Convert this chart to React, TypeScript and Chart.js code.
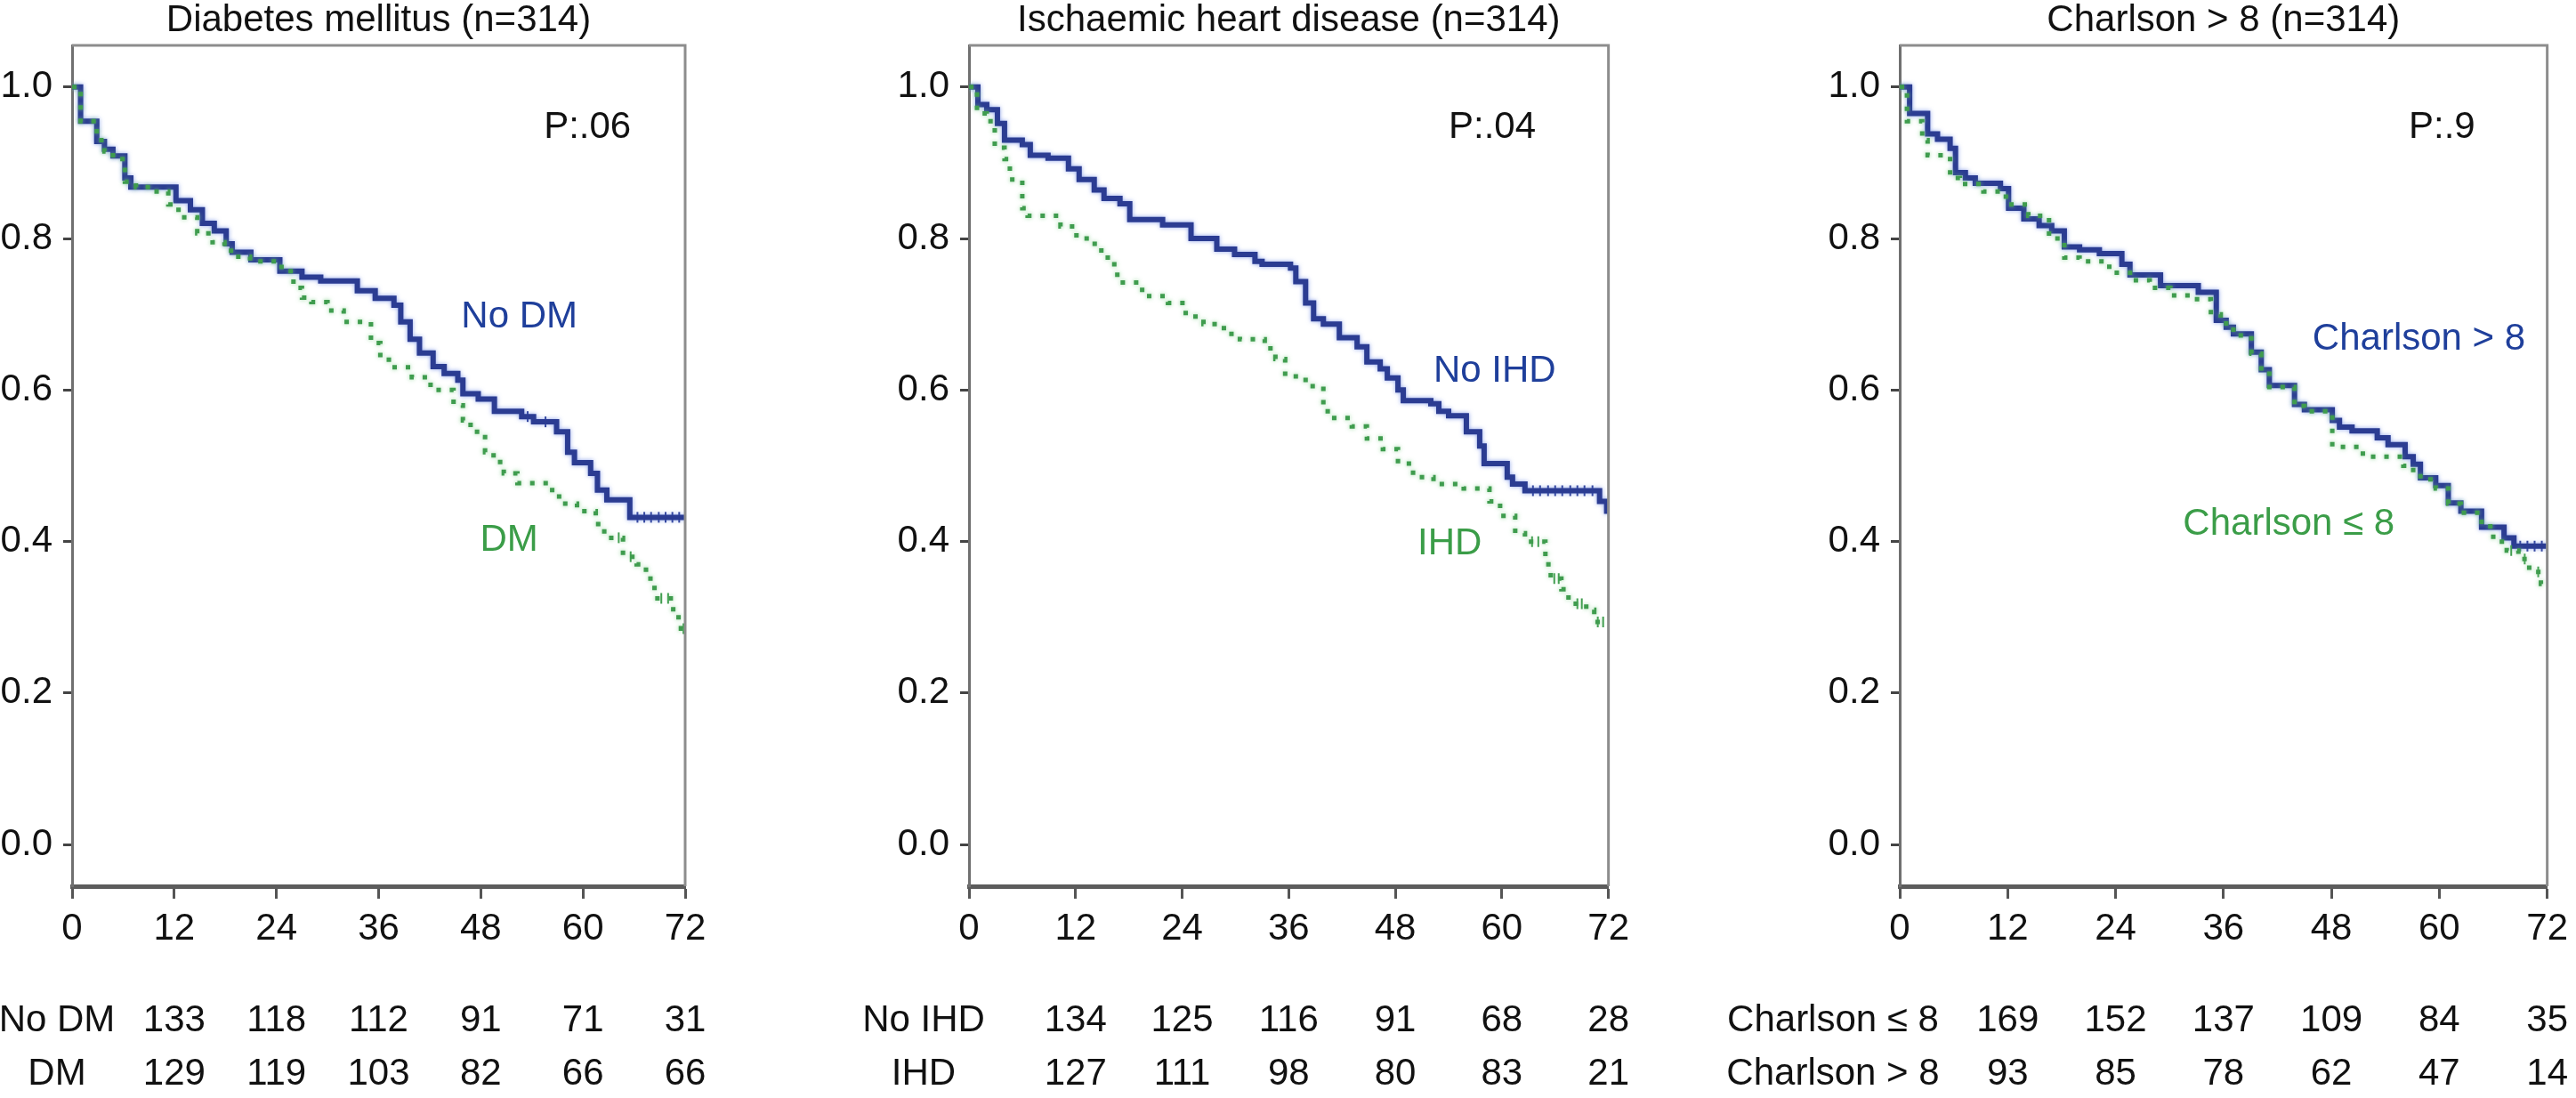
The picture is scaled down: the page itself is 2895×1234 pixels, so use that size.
import { useEffect, useRef } from 'react'
import { Chart, registerables } from 'chart.js'

Chart.register(...registerables)

const FONT = '"Liberation Sans", Arial, Helvetica, sans-serif'
const FONT_SIZE = 42
const BLUE = '#2b3c92'
const GREEN = '#3f9c4e'
const BLUE_TEXT = '#1f3f9b'
const GREEN_TEXT = '#3b9d48'

const MONTH_TICKS = [0, 12, 24, 36, 48, 60, 72]
const SURV_TICKS = [0, 0.2, 0.4, 0.6, 0.8, 1.0]
const RISK_MONTHS = [12, 24, 36, 48, 60, 72]

// Kaplan-Meier steps: [month, survival]
const NO_DM_CURVE: [number, number][] = [
  [0, 1], [1.0, 0.955], [2.9, 0.928], [3.8, 0.918], [4.8, 0.909], [6.2, 0.88], [6.9, 0.868],
  [12.2, 0.85], [13.9, 0.838], [15.3, 0.82], [16.7, 0.81], [18.1, 0.793], [18.8, 0.782],
  [21.0, 0.772], [24.4, 0.757], [27.0, 0.749], [29.2, 0.744], [33.5, 0.731], [35.6, 0.721],
  [37.8, 0.712], [38.6, 0.69], [39.7, 0.667], [40.8, 0.649], [42.4, 0.631], [43.7, 0.622],
  [45.3, 0.613], [45.9, 0.595], [47.7, 0.588], [49.6, 0.572], [52.8, 0.565], [54.2, 0.558],
  [56.9, 0.545], [58.2, 0.518], [59.0, 0.504], [60.9, 0.49], [61.7, 0.468], [62.8, 0.455],
  [65.5, 0.432], [72, 0.432],
]
const DM_CURVE: [number, number][] = [
  [0, 1], [1.0, 0.955], [2.9, 0.93], [3.8, 0.915], [4.8, 0.905], [6.2, 0.875], [7.5, 0.868],
  [9.5, 0.862], [11.3, 0.845], [12.5, 0.828], [14.7, 0.807], [16.5, 0.795], [17.9, 0.784],
  [19.0, 0.776], [20.9, 0.77], [24.6, 0.757], [26.0, 0.735], [27.0, 0.722], [28.1, 0.716],
  [30.0, 0.705], [31.9, 0.69], [35.1, 0.662], [36.2, 0.64], [37.5, 0.63], [39.9, 0.617],
  [42.1, 0.6], [44.8, 0.58], [45.9, 0.56], [46.8, 0.545], [48.0, 0.538], [48.5, 0.518],
  [49.5, 0.505], [50.7, 0.49], [52.3, 0.477], [56.1, 0.468], [57.2, 0.45], [59.3, 0.44],
  [61.5, 0.423], [62.5, 0.405], [64.7, 0.38], [66.3, 0.37], [67.4, 0.351], [68.4, 0.325],
  [70.6, 0.3], [71.5, 0.285], [72, 0.285],
]
const NO_IHD_CURVE: [number, number][] = [
  [0, 1], [1.0, 0.977], [2.0, 0.97], [3.2, 0.952], [4.0, 0.93], [6.0, 0.924], [6.9, 0.91],
  [8.9, 0.906], [11.2, 0.892], [12.4, 0.878], [14.1, 0.864], [15.2, 0.853], [17.0, 0.846],
  [18.1, 0.825], [21.8, 0.818], [25.0, 0.8], [27.9, 0.786], [29.9, 0.779], [32.2, 0.77],
  [33.0, 0.766], [36.2, 0.761], [36.8, 0.743], [37.9, 0.715], [38.8, 0.694], [39.9, 0.687],
  [41.7, 0.669], [43.7, 0.657], [44.8, 0.637], [46.3, 0.628], [47.1, 0.616], [48.3, 0.6],
  [48.9, 0.586], [52.0, 0.582], [52.9, 0.572], [54.0, 0.566], [56.0, 0.545], [57.5, 0.526],
  [58.0, 0.503], [60.6, 0.485], [61.2, 0.476], [62.6, 0.467], [71.0, 0.453], [71.8, 0.44],
  [72, 0.44],
]
const IHD_CURVE: [number, number][] = [
  [0, 1], [0.9, 0.965], [2.0, 0.955], [2.9, 0.92], [4.0, 0.905], [4.6, 0.878], [6.0, 0.84],
  [6.6, 0.83], [10.3, 0.816], [12.1, 0.8], [13.8, 0.793], [14.9, 0.775], [16.1, 0.766],
  [16.7, 0.742], [19.5, 0.724], [22.4, 0.715], [24.4, 0.697], [26.4, 0.687], [28.7, 0.674],
  [30.5, 0.667], [33.3, 0.655], [34.5, 0.641], [35.6, 0.618], [37.9, 0.605], [39.9, 0.572],
  [40.8, 0.563], [43.1, 0.552], [44.8, 0.536], [46.6, 0.522], [48.3, 0.503], [50.0, 0.485],
  [52.3, 0.476], [55.7, 0.47], [58.6, 0.453], [59.8, 0.434], [61.5, 0.411], [62.6, 0.4],
  [64.9, 0.37], [65.5, 0.351], [66.7, 0.337], [67.5, 0.318], [69.5, 0.31], [70.4, 0.294],
  [72, 0.294],
]
const CH_GT8_CURVE: [number, number][] = [
  [0, 1], [1.1, 0.965], [3.1, 0.938], [4.2, 0.931], [5.6, 0.919], [6.2, 0.887], [7.3, 0.88],
  [8.4, 0.873], [11.2, 0.866], [12.1, 0.84], [13.8, 0.826], [15.5, 0.817], [16.9, 0.81],
  [18.3, 0.789], [20.0, 0.785], [22.2, 0.78], [24.7, 0.766], [25.6, 0.752], [29.0, 0.738],
  [33.2, 0.729], [35.2, 0.692], [36.3, 0.683], [37.1, 0.674], [39.1, 0.65], [40.2, 0.627],
  [41.1, 0.606], [43.9, 0.581], [45.0, 0.574], [48.1, 0.56], [48.9, 0.551], [50.3, 0.546],
  [53.1, 0.537], [54.3, 0.528], [56.2, 0.512], [57.1, 0.502], [57.9, 0.484], [59.6, 0.474],
  [61.0, 0.451], [62.4, 0.44], [64.7, 0.419], [67.2, 0.405], [68.3, 0.394], [72, 0.394],
]
const CH_LE8_CURVE: [number, number][] = [
  [0, 1], [0.8, 0.955], [2.5, 0.93], [3.1, 0.91], [5.6, 0.88], [6.7, 0.872], [9.3, 0.862],
  [11.8, 0.845], [14.3, 0.83], [16.6, 0.8], [18.3, 0.775], [20.0, 0.77], [23.3, 0.755],
  [25.6, 0.745], [27.8, 0.735], [30.1, 0.725], [32.3, 0.72], [34.6, 0.7], [35.7, 0.688],
  [37.1, 0.672], [39.1, 0.648], [40.2, 0.625], [41.1, 0.604], [43.9, 0.579], [45.0, 0.572],
  [48.1, 0.525], [51.5, 0.512], [56.0, 0.5], [57.1, 0.49], [57.9, 0.482], [59.6, 0.47],
  [61.0, 0.45], [62.4, 0.438], [64.7, 0.42], [66.0, 0.4], [67.5, 0.388], [68.8, 0.377],
  [70.0, 0.36], [71.3, 0.344], [72, 0.344],
]

// censoring marks (months)
const NO_DM_CENSORED = [53.5, 55.6, 66.4, 67.2, 68.0, 68.9, 69.7, 70.5, 71.3]
const DM_CENSORED = [64.2, 65.6, 69.2, 70.0, 71.8]
const NO_IHD_CENSORED = [63.5, 64.3, 65.2, 66.0, 66.8, 67.7, 68.5, 69.3, 70.2]
const IHD_CENSORED = [63.4, 64.1, 65.9, 66.4, 68.5, 69.0, 70.8, 71.4]
const CH_GT8_CENSORED = [69.0, 69.8, 70.6, 71.4]
const CH_LE8_CENSORED = [68.0, 69.5, 71.0]

// numbers at risk
const NO_DM_RISK = [133, 118, 112, 91, 71, 31]
const DM_RISK = [129, 119, 103, 82, 66, 66]
const NO_IHD_RISK = [134, 125, 116, 91, 68, 28]
const IHD_RISK = [127, 111, 98, 80, 83, 21]
const CH_LE8_RISK = [169, 152, 137, 109, 84, 35]
const CH_GT8_RISK = [93, 85, 78, 62, 47, 14]

const PAGE_W = 2895
const PAGE_H = 1234
const PLOT_TOP = 51
const PLOT_BOTTOM = 996
const Y_AXIS_W = 81
const X_AXIS_H = 80
const TITLE_Y = 23
const RISK_Y = [1147, 1207]

type Series = { curve: [number, number][]; censored: number[]; color: string; dashed: boolean }
type Label = { text: string; color: string; at: [number, number] }
type PanelSpec = {
  title: string
  p: string
  pAt: [number, number]
  series: Series[]
  labels: Label[]
  risk: { label: string; counts: number[] }[]
  riskLabelDx: number
  left: number
  width: number
  plotLeft: number
  plotRight: number
}

const PANELS: PanelSpec[] = [
  {
    title: 'Diabetes mellitus (n=314)',
    p: 'P:.06',
    pAt: [55.4, 0.947],
    series: [
      { curve: DM_CURVE, censored: DM_CENSORED, color: GREEN, dashed: true },
      { curve: NO_DM_CURVE, censored: NO_DM_CENSORED, color: BLUE, dashed: false },
    ],
    labels: [
      { text: 'No DM', color: BLUE_TEXT, at: [45.7, 0.696] },
      { text: 'DM', color: GREEN_TEXT, at: [47.9, 0.402] },
    ],
    risk: [
      { label: 'No DM', counts: NO_DM_RISK },
      { label: 'DM', counts: DM_RISK },
    ],
    riskLabelDx: -17,
    left: 0,
    width: 820,
    plotLeft: 81,
    plotRight: 770,
  },
  {
    title: 'Ischaemic heart disease (n=314)',
    p: 'P:.04',
    pAt: [54.0, 0.947],
    series: [
      { curve: IHD_CURVE, censored: IHD_CENSORED, color: GREEN, dashed: true },
      { curve: NO_IHD_CURVE, censored: NO_IHD_CENSORED, color: BLUE, dashed: false },
    ],
    labels: [
      { text: 'No IHD', color: BLUE_TEXT, at: [52.3, 0.625] },
      { text: 'IHD', color: GREEN_TEXT, at: [50.5, 0.397] },
    ],
    risk: [
      { label: 'No IHD', counts: NO_IHD_RISK },
      { label: 'IHD', counts: IHD_RISK },
    ],
    riskLabelDx: -51,
    left: 880,
    width: 960,
    plotLeft: 1089,
    plotRight: 1808,
  },
  {
    title: 'Charlson > 8 (n=314)',
    p: 'P:.9',
    pAt: [56.6, 0.947],
    series: [
      { curve: CH_LE8_CURVE, censored: CH_LE8_CENSORED, color: GREEN, dashed: true },
      { curve: CH_GT8_CURVE, censored: CH_GT8_CENSORED, color: BLUE, dashed: false },
    ],
    labels: [
      { text: 'Charlson > 8', color: BLUE_TEXT, at: [45.9, 0.667] },
      { text: 'Charlson \u2264 8', color: GREEN_TEXT, at: [31.5, 0.423] },
    ],
    risk: [
      { label: 'Charlson \u2264 8', counts: CH_LE8_RISK },
      { label: 'Charlson > 8', counts: CH_GT8_RISK },
    ],
    riskLabelDx: -75,
    left: 1900,
    width: 995,
    plotLeft: 2135,
    plotRight: 2870,
  },
]

// survival value of a step curve at time t
function stepAt(curve: [number, number][], t: number) {
  let v = curve[0][1]
  for (const [x, y] of curve) if (x <= t) v = y
  return v
}

function decor(spec: PanelSpec) {
  return {
    id: 'kmDecor',
    beforeDatasetDraw(chart: any, args: any) {
      const ds = chart.data.datasets[args.index]
      if (!ds.halo) return
      chart.ctx.save()
      chart.ctx.shadowColor = ds.halo
      chart.ctx.shadowBlur = 5
    },
    afterDatasetDraw(chart: any, args: any) {
      if (chart.data.datasets[args.index].halo) chart.ctx.restore()
    },
    afterDraw(chart: any) {
      const { ctx, chartArea: a } = chart
      const x = chart.scales.x
      const y = chart.scales.y
      ctx.save()
      // top and right frame
      ctx.strokeStyle = '#8d8d8d'
      ctx.lineWidth = 3
      ctx.beginPath()
      ctx.moveTo(a.left, a.top)
      ctx.lineTo(a.right, a.top)
      ctx.lineTo(a.right, a.bottom)
      ctx.stroke()

      ctx.font = `${FONT_SIZE}px ${FONT}`
      ctx.textBaseline = 'middle'
      ctx.fillStyle = '#111'
      ctx.textAlign = 'center'
      ctx.fillText(spec.title, (a.left + a.right) / 2, TITLE_Y)

      ctx.textAlign = 'left'
      ctx.fillText(spec.p, x.getPixelForValue(spec.pAt[0]), y.getPixelForValue(spec.pAt[1]))
      for (const l of spec.labels) {
        ctx.fillStyle = l.color
        ctx.fillText(l.text, x.getPixelForValue(l.at[0]), y.getPixelForValue(l.at[1]))
      }

      ctx.fillStyle = '#111'
      ctx.textAlign = 'center'
      spec.risk.forEach((row, r) => {
        ctx.fillText(row.label, a.left + spec.riskLabelDx, RISK_Y[r])
        row.counts.forEach((n, i) => {
          ctx.fillText(String(n), x.getPixelForValue(RISK_MONTHS[i]), RISK_Y[r])
        })
      })
      ctx.restore()
    },
  }
}

function KmPanel({ spec }: { spec: PanelSpec }) {
  const canvasRef = useRef<HTMLCanvasElement>(null)

  useEffect(() => {
    if (!canvasRef.current) return

    const datasets: any[] = spec.series.flatMap((s) => [
      {
        data: s.curve.map(([x, y]) => ({ x, y })),
        stepped: true,
        borderColor: s.color,
        borderWidth: s.dashed ? 5 : 6,
        borderDash: s.dashed ? [5, 10] : [],
        borderCapStyle: 'butt',
        pointRadius: 0,
        fill: false,
        halo: s.dashed ? 'rgba(120,205,130,0.8)' : 'rgba(95,125,225,0.7)',
      },
      {
        data: s.censored.map((t) => ({ x: t, y: stepAt(s.curve, t) })),
        showLine: false,
        pointStyle: 'line',
        rotation: 90,
        pointRadius: 6,
        pointBorderWidth: 2,
        pointBorderColor: s.color,
        borderColor: s.color,
      },
    ])

    const chart = new Chart(canvasRef.current, {
      type: 'line',
      data: { datasets },
      plugins: [decor(spec) as any],
      options: {
        animation: false,
        responsive: true,
        maintainAspectRatio: false,
        events: [],
        layout: {
          padding: {
            left: spec.plotLeft - spec.left - Y_AXIS_W,
            right: spec.left + spec.width - spec.plotRight,
            top: PLOT_TOP,
            bottom: PAGE_H - PLOT_BOTTOM - X_AXIS_H,
          },
        },
        plugins: {
          legend: { display: false },
          tooltip: { enabled: false },
          title: { display: false },
        },
        scales: {
          x: {
            type: 'linear',
            min: 0,
            max: 72,
            afterBuildTicks: (s: any) => {
              s.ticks = MONTH_TICKS.map((value) => ({ value }))
            },
            afterFit: (s: any) => {
              s.height = X_AXIS_H
            },
            grid: { drawOnChartArea: false, drawTicks: true, tickLength: 14, tickWidth: 3, tickColor: '#555' },
            border: { display: true, color: '#5c5c5c', width: 5 },
            ticks: {
              font: { family: FONT, size: FONT_SIZE },
              color: '#111',
              padding: 9,
              maxRotation: 0,
              autoSkip: false,
              callback: (v: any) => String(v),
            },
          },
          y: {
            type: 'linear',
            min: -0.055,
            max: 1.055,
            afterBuildTicks: (s: any) => {
              s.ticks = SURV_TICKS.map((value) => ({ value }))
            },
            afterFit: (s: any) => {
              s.width = Y_AXIS_W
            },
            grid: { drawOnChartArea: false, drawTicks: true, tickLength: 10, tickWidth: 3, tickColor: '#444' },
            border: { display: true, color: '#707070', width: 3 },
            ticks: {
              font: { family: FONT, size: FONT_SIZE },
              color: '#111',
              padding: 12,
              autoSkip: false,
              callback: (v: any) => Number(v).toFixed(1),
            },
          },
        },
      } as any,
    })

    return () => {
      chart.destroy()
    }
  }, [spec])

  return (
    <div style={{ position: 'absolute', left: spec.left, top: 0, width: spec.width, height: PAGE_H }}>
      <canvas ref={canvasRef} />
    </div>
  )
}

export default function App() {
  return (
    <div
      style={{
        position: 'absolute',
        left: 0,
        top: 0,
        width: PAGE_W,
        height: PAGE_H,
        background: '#fff',
        overflow: 'hidden',
      }}
    >
      {PANELS.map((p) => (
        <KmPanel key={p.title} spec={p} />
      ))}
    </div>
  )
}
